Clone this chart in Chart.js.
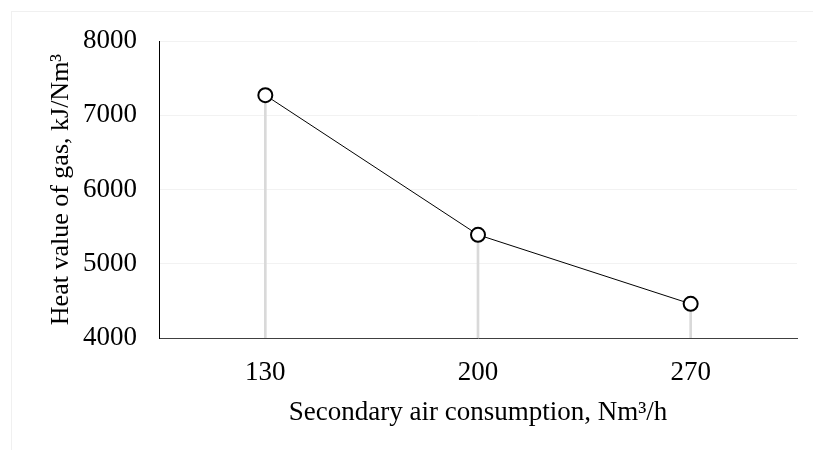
<!DOCTYPE html>
<html>
<head>
<meta charset="utf-8">
<script src="https://cdn.jsdelivr.net/npm/chart.js@4/dist/chart.umd.min.js"></script>
<style>
  html, body { margin: 0; padding: 0; background: #fff; }
  #wrap { position: relative; width: 813px; height: 450px; overflow: hidden; }
  #frame { position: absolute; left: 11px; top: 11px; width: 900px; height: 600px; border: 1px solid #f0f0f0; }
  canvas { position: absolute; left: 0; top: 0; }
</style>
</head>
<body>
<div id="wrap">
  <div id="frame"></div>
  <canvas id="c" width="813" height="450"></canvas>
</div>
<script>
const categories = ['130', '200', '270'];
const heatValue = [7270, 5390, 4460];
const yTicks = [4000, 5000, 6000, 7000, 8000];
const xTitle = 'Secondary air consumption, Nm\u00B3/h';
const yTitle = 'Heat value of gas, kJ/Nm\u00B3';

const serif = '"Liberation Serif", "Times New Roman", serif';

new Chart(document.getElementById('c'), {
  data: {
    labels: categories,
    datasets: [
      {
        type: 'line',
        data: heatValue,
        order: 1,
        borderColor: '#000',
        borderWidth: 1,
        pointRadius: 7,
        pointBackgroundColor: '#fff',
        pointBorderColor: '#000',
        pointBorderWidth: 2,
        tension: 0
      },
      {
        type: 'bar',
        data: heatValue,
        order: 2,
        backgroundColor: '#d9d9d9',
        barThickness: 2
      }
    ]
  },
  options: {
    responsive: false,
    animation: false,
    events: [],
    layout: { padding: { left: 40, top: 41, right: 16, bottom: 21 } },
    plugins: { legend: { display: false }, tooltip: { enabled: false } },
    scales: {
      x: {
        type: 'category',
        offset: true,
        grid: { display: false, drawTicks: false },
        border: { display: true, color: '#404040', width: 1 },
        ticks: { color: '#000', font: { family: serif, size: 27 }, padding: 19 },
        title: { display: true, text: xTitle, color: '#000', font: { family: serif, size: 27 }, padding: { top: 0, bottom: 0 } },
        afterFit: s => { s.height = 450 - 338 - 21; }
      },
      y: {
        min: 4000,
        max: 8000,
        afterBuildTicks: s => { s.ticks = yTicks.map(v => ({ value: v })); },
        grid: { color: '#f2f2f2', lineWidth: 1, drawTicks: false },
        border: { display: true, color: '#000', width: 1 },
        ticks: { color: '#000', font: { family: serif, size: 27 }, padding: 22, callback: v => String(v) },
        title: { display: true, text: yTitle, color: '#000', font: { family: serif, size: 26 }, padding: { top: 6, bottom: 0 } },
        afterFit: s => { s.width = 159 - 40; }
      }
    }
  }
});
</script>
</body>
</html>
